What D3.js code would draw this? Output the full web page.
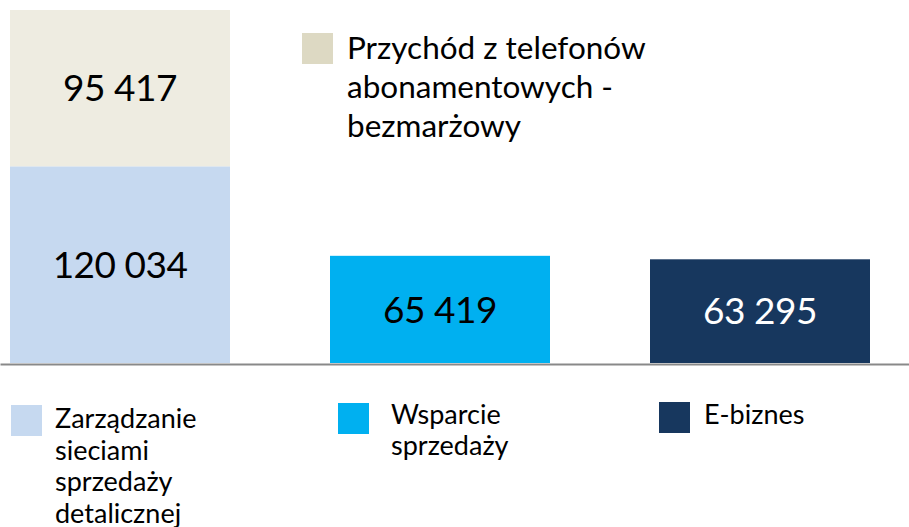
<!DOCTYPE html>
<html>
<head>
<meta charset="utf-8">
<script src="https://cdn.jsdelivr.net/npm/d3@7"></script>
<style>
  html, body { margin: 0; padding: 0; background: #ffffff; }
  svg { display: block; font-family: Lato, "Open Sans", sans-serif; }
</style>
</head>
<body>
<svg id="chart" width="909" height="527"></svg>
<script>
// Data
const categories = ["Zarządzanie sieciami sprzedaży detalicznej", "Wsparcie sprzedaży", "E-biznes"];
const baseValues = [120034, 65419, 63295];
const topValues = [95417, 0, 0];
const seriesNames = ["Przychód z telefonów abonamentowych - bezmarżowy"];
const valueLabels = ["120 034", "65 419", "63 295"];
const topLabels = ["95 417", "", ""];
const legendLines = [
  ["Zarządzanie", "sieciami", "sprzedaży", "detalicznej"],
  ["Wsparcie", "sprzedaży"],
  ["E-biznes"]
];
const topLegendLines = ["Przychód z telefonów", "abonamentowych -", "bezmarżowy"];

const baseColors = ["#c6d9f0", "#00b0f0", "#17375e"];
const labelColors = ["#000000", "#000000", "#ffffff"];
const topColor = "#eeece1";
const topLegendColor = "#ddd9c3";

const svg = d3.select("#chart");
const W = 909, H = 527;
const baseline = 363;
const topY = 10;

const x = d3.scaleBand()
  .domain(categories)
  .range([10, 870])
  .paddingInner(100 / 320)
  .paddingOuter(0);

const y = d3.scaleLinear()
  .domain([0, d3.max(baseValues.map((v, i) => v + topValues[i]))])
  .range([baseline, topY]);

const g = svg.append("g");

// base bars
g.selectAll("rect.base")
  .data(categories)
  .join("rect")
  .attr("class", "base")
  .attr("x", d => x(d))
  .attr("width", x.bandwidth())
  .attr("y", (d, i) => y(baseValues[i]))
  .attr("height", (d, i) => baseline - y(baseValues[i]))
  .attr("fill", (d, i) => baseColors[i]);

// stacked top bars
g.selectAll("rect.top")
  .data(categories.filter((d, i) => topValues[i] > 0))
  .join("rect")
  .attr("class", "top")
  .attr("x", d => x(d))
  .attr("width", x.bandwidth())
  .attr("y", d => { const i = categories.indexOf(d); return y(baseValues[i] + topValues[i]); })
  .attr("height", d => { const i = categories.indexOf(d); return y(baseValues[i]) - y(baseValues[i] + topValues[i]); })
  .attr("fill", topColor);

// value labels
g.selectAll("text.val")
  .data(categories)
  .join("text")
  .attr("class", "val")
  .attr("x", d => x(d) + x.bandwidth() / 2)
  .attr("y", (d, i) => (y(baseValues[i]) + baseline) / 2)
  .attr("dy", "0.36em")
  .attr("text-anchor", "middle")
  .attr("font-size", 37)
  .attr("letter-spacing", -0.5)
  .attr("fill", (d, i) => labelColors[i])
  .text((d, i) => valueLabels[i]);

g.selectAll("text.topval")
  .data(categories.filter((d, i) => topValues[i] > 0))
  .join("text")
  .attr("class", "topval")
  .attr("x", d => x(d) + x.bandwidth() / 2)
  .attr("y", d => { const i = categories.indexOf(d); return (y(baseValues[i]) + y(baseValues[i] + topValues[i])) / 2; })
  .attr("dy", "0.36em")
  .attr("text-anchor", "middle")
  .attr("font-size", 37)
  .attr("letter-spacing", -0.5)
  .attr("fill", "#000")
  .text(d => topLabels[categories.indexOf(d)]);

// axis line
const axis = d3.axisBottom(d3.scaleLinear().range([0, W])).ticks(0).tickSize(0).tickFormat("");
const ax = svg.append("g").attr("transform", `translate(0,${baseline + 1})`).call(axis);
ax.select(".domain").attr("stroke", "#898989").attr("stroke-width", 2);

// bottom legends
const legX = [11, 338, 659];
const legY = [405, 403, 402];
const legTextX = [55, 391, 704];
const legBase = [428, 424, 424];
const legStep = [31.5, 31, 31];
const leg = svg.append("g");
categories.forEach((c, i) => {
  leg.append("rect")
    .attr("x", legX[i]).attr("y", legY[i])
    .attr("width", 31).attr("height", 31)
    .attr("fill", baseColors[i]);
  const t = leg.append("text")
    .attr("x", legTextX[i])
    .attr("y", legBase[i])
    .attr("font-size", 27)
    .attr("fill", "#000");
  legendLines[i].forEach((l, k) => {
    t.append("tspan")
      .attr("x", legTextX[i])
      .attr("dy", k === 0 ? 0 : legStep[i])
      .text(l);
  });
});

// top legend
const tl = svg.append("g");
tl.append("rect")
  .attr("x", 302).attr("y", 33)
  .attr("width", 31).attr("height", 31)
  .attr("fill", topLegendColor);
const tt = tl.append("text")
  .attr("x", 347).attr("y", 59)
  .attr("font-size", 31.5)
  .attr("fill", "#000");
topLegendLines.forEach((l, k) => {
  tt.append("tspan").attr("x", 347).attr("dy", k === 0 ? 0 : 39).text(l);
});
</script>
</body>
</html>
